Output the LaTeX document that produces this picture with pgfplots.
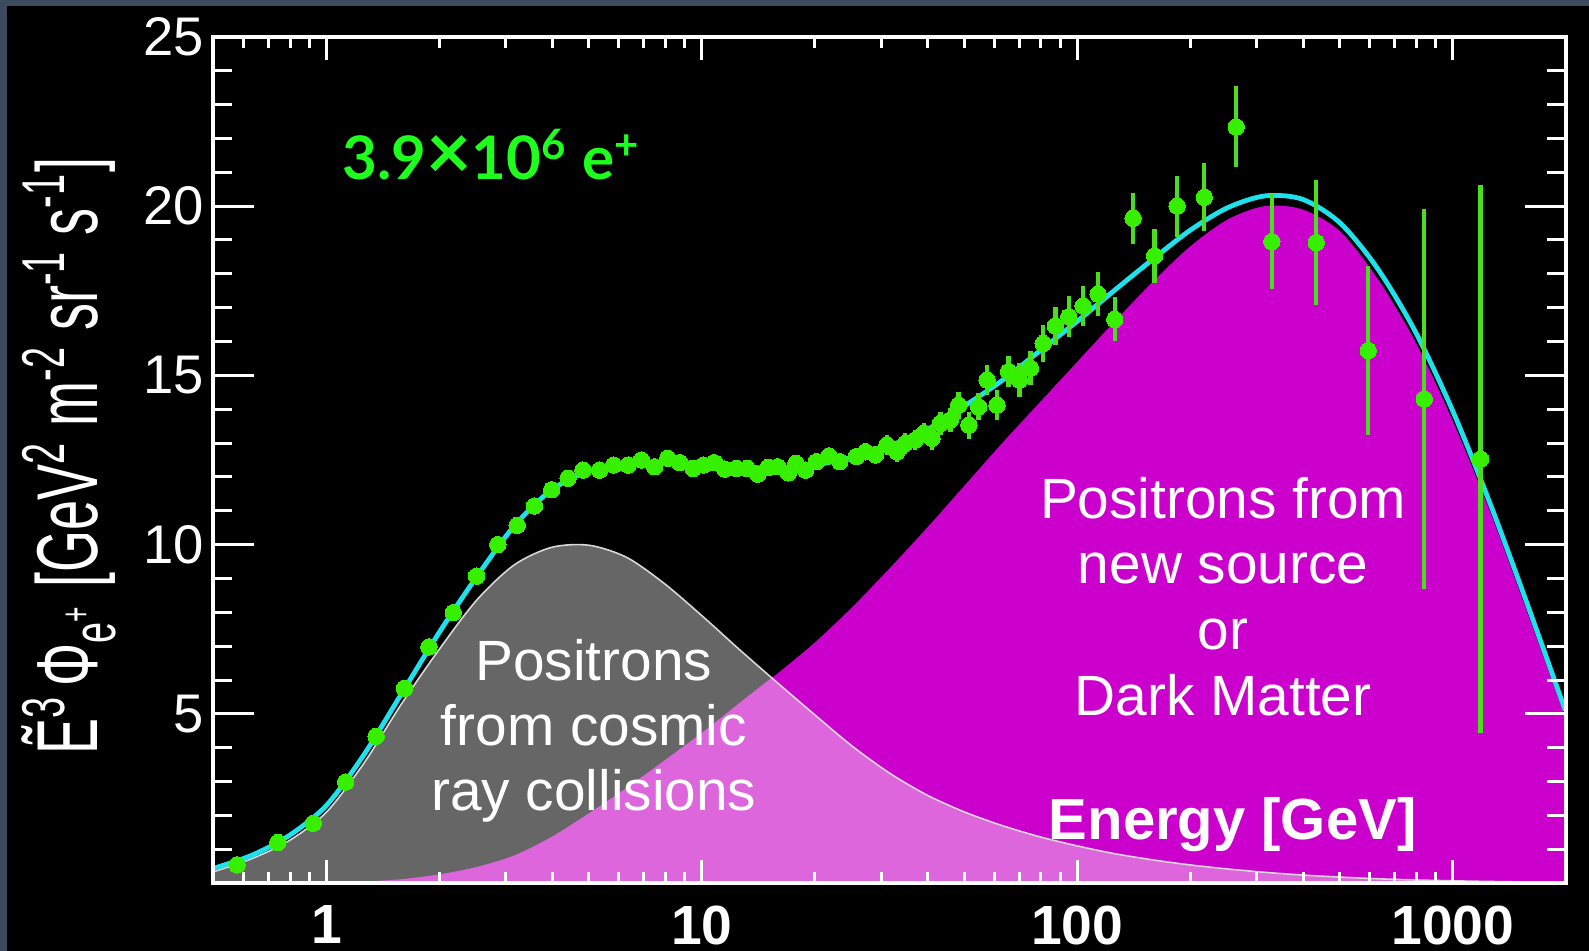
\documentclass[border=0pt]{standalone}
\usepackage{pgfplots}
\pgfplotsset{compat=1.18}
\usepackage{pgfplotstable}
\usepackage{graphicx}
\usepackage{fontspec}
\setmainfont{Liberation Sans}
\newfontfamily\latofont{Lato}

\definecolor{bgblue}{RGB}{60,76,94}
\definecolor{cyanline}{RGB}{30,225,235}
\definecolor{magF}{RGB}{204,0,204}
\definecolor{pinkF}{RGB}{221,102,221}
\definecolor{grayF}{RGB}{102,102,102}
\definecolor{grayline}{RGB}{215,215,215}
\definecolor{ptgreen}{RGB}{55,240,0}
\definecolor{bargreen}{RGB}{75,222,30}
\definecolor{txtgreen}{RGB}{30,255,30}

% total model (cyan)
\pgfplotstableread{
x y
0.501 0.44
0.631 0.82
0.794 1.40
1.000 2.30
1.259 3.80
1.585 5.60
1.995 7.40
2.512 9.05
3.162 10.55
3.981 11.62
5.012 12.18
6.310 12.35
7.943 12.43
10.00 12.38
12.59 12.30
15.85 12.26
19.95 12.35
25.12 12.58
31.62 12.92
39.81 13.40
50.12 14.10
63.10 14.85
79.43 15.72
100.0 16.60
125.9 17.52
158.5 18.42
199.5 19.28
251.2 19.95
316.2 20.30
398.1 20.20
501.2 19.50
631.0 18.15
794.3 16.30
1000 13.95
1259 11.20
1585 8.20
1995 5.10
}\cyantab

% cosmic-ray collision component (grey)
\pgfplotstableread{
x y
0.501 0.34
0.631 0.72
0.794 1.25
1.000 2.10
1.259 3.55
1.585 5.30
1.995 6.90
2.512 8.36
3.162 9.40
3.981 9.92
5.012 9.98
6.310 9.62
7.943 8.85
10.00 7.90
12.59 6.90
15.85 5.93
19.95 4.98
25.12 4.05
31.62 3.25
39.81 2.60
50.12 2.10
63.10 1.70
79.43 1.37
100.0 1.10
125.9 0.87
158.5 0.69
199.5 0.54
251.2 0.42
316.2 0.32
398.1 0.24
501.2 0.18
631.0 0.13
794.3 0.095
1000 0.07
1259 0.05
1585 0.035
1995 0.025
}\graytab

% new source component (magenta)
\pgfplotstableread{
x y
1.000 0.0
1.259 0.03
1.585 0.10
1.995 0.24
2.512 0.46
3.162 0.80
3.981 1.35
5.012 2.05
6.310 2.80
7.943 3.60
10.00 4.42
12.59 5.30
15.85 6.18
19.95 7.10
25.12 8.15
31.62 9.30
39.81 10.50
50.12 11.75
63.10 13.00
79.43 14.20
100.0 15.40
125.9 16.60
158.5 17.75
199.5 18.80
251.2 19.60
316.2 20.00
398.1 19.90
501.2 19.25
631.0 17.85
794.3 16.00
1000 13.65
1259 10.95
1585 7.95
1995 4.90
}\magtab

% overlap of both components (light pink): below the magenta curve up to the crossing
\pgfplotstableread{
x y
1.000 0.0
1.259 0.03
1.585 0.10
1.995 0.24
2.512 0.46
3.162 0.80
3.981 1.35
5.012 2.05
6.310 2.80
7.943 3.60
10.00 4.42
12.59 5.30
15.40 6.06
}\pinkA

% overlap: below the grey curve after the crossing
\pgfplotstableread{
x y
15.40 6.06
19.95 4.98
25.12 4.05
31.62 3.25
39.81 2.60
50.12 2.10
63.10 1.70
79.43 1.37
100.0 1.10
125.9 0.87
158.5 0.69
199.5 0.54
251.2 0.42
316.2 0.32
398.1 0.24
501.2 0.18
631.0 0.13
794.3 0.095
1000 0.07
1259 0.05
1585 0.035
1995 0.025
}\pinkB

% measured positron flux
\pgfplotstableread{
x y e
0.578 0.54 0.02
0.742 1.20 0.03
0.922 1.77 0.04
1.125 2.99 0.05
1.356 4.34 0.06
1.614 5.75 0.07
1.874 6.98 0.08
2.176 7.99 0.09
2.51 9.07 0.1
2.86 10.00 0.1
3.22 10.57 0.1
3.58 11.14 0.1
3.98 11.62 0.1
4.40 11.96 0.1
4.82 12.20 0.1
5.34 12.20 0.1
5.82 12.35 0.1
6.36 12.35 0.1
6.90 12.50 0.1
7.48 12.30 0.1
8.11 12.55 0.1
8.72 12.42 0.1
9.47 12.25 0.1
10.1 12.35 0.1
10.8 12.42 0.1
11.5 12.23 0.1
12.35 12.25 0.1
13.2 12.25 0.12
14.1 12.08 0.12
15.0 12.28 0.12
15.9 12.30 0.12
17.0 12.12 0.12
17.8 12.40 0.15
18.9 12.20 0.15
20.2 12.45 0.15
21.8 12.62 0.15
23.3 12.45 0.2
25.8 12.60 0.2
27.3 12.74 0.25
29.0 12.65 0.25
31.1 12.94 0.3
33.1 12.74 0.3
34.8 12.99 0.3
37.0 13.09 0.3
39.0 13.29 0.3
41.0 13.14 0.35
43.2 13.58 0.35
45.9 13.68 0.35
48.3 14.12 0.4
51.4 13.53 0.4
54.6 14.07 0.4
57.5 14.86 0.45
61.1 14.12 0.45
65.6 15.11 0.45
70.1 14.86 0.5
75.0 15.21 0.5
81.1 15.94 0.55
87.4 16.46 0.55
94.9 16.73 0.6
103.6 17.05 0.6
113.6 17.40 0.65
125.8 16.65 0.65
140.8 19.64 0.75
160.6 18.53 0.8
184.5 20.00 0.9
217.8 20.26 1.0
265 22.34 1.2
329.7 18.95 1.4
433 18.92 1.85
595.6 15.73 2.5
839.6 14.30 5.6
1186 12.53 8.1
}\datatab

\begin{document}
\begin{tikzpicture}
\fill[bgblue] (-53.375pt,-16.95pt) rectangle (343.875pt,220.8pt);
\fill[black] (-51.625pt,-16.95pt) rectangle (343.875pt,219.3pt);
\begin{axis}[
  scale only axis, width=338.05pt, height=211.6pt,
  xmode=log, xmin=0.5, xmax=2000, ymin=0, ymax=25,
  axis on top,
  axis line style={white, line width=1pt},
  tick align=inside,
  tick style={white, line width=0.75pt},
  major tick length=10.25pt, minor tick length=4.75pt,
  every major x tick/.append style={/pgfplots/major tick length=5.75pt},
  every minor x tick/.append style={/pgfplots/minor tick length=2.75pt},
  xtick={1,10,100,1000}, xticklabels={1,10,100,1000},
  minor xtick={0.6,0.7,0.8,0.9,2,3,4,5,6,7,8,9,20,30,40,50,60,70,80,90,200,300,400,500,600,700,800,900,2000},
  ytick={5,10,15,20,25}, yticklabels={5,10,15,20,25},
  minor ytick={1,2,3,4,6,7,8,9,11,12,13,14,16,17,18,19,21,22,23,24},
  xticklabel style={white, font=\bfseries\fontsize{13.8}{16}\selectfont, anchor=north, inner sep=0pt, yshift=-5.4pt},
  yticklabel style={white, font=\fontsize{13.6}{16}\selectfont, anchor=east, inner sep=0pt, xshift=-2.2pt},
]
\addplot[draw=none, fill=magF, smooth] table[x=x,y=y] {\magtab} \closedcycle;
\addplot[draw=none, fill=grayF, smooth] table[x=x,y=y] {\graytab} \closedcycle;
\addplot[draw=pinkF, line width=0.3pt, fill=pinkF, smooth] table[x=x,y=y] {\pinkA} \closedcycle;
\addplot[draw=none, fill=pinkF, smooth] table[x=x,y=y] {\pinkB} \closedcycle;
\addplot[smooth, draw=grayline, line width=0.4pt] table[x=x,y=y] {\graytab};
\addplot[smooth, draw=cyanline, line width=1.2pt] table[x=x,y=y] {\cyantab};
\addplot[color=ptgreen, only marks, mark=*, mark size=2.05pt, mark options={fill=ptgreen, draw=ptgreen, line width=0pt},
  error bars/.cd, y dir=both, y explicit, error mark=none,
  error bar style={bargreen, line width=1.1pt}]
  table[x=x, y=y, y error=e] {\datatab};
\end{axis}
% y axis title
\node[rotate=90, anchor=base, white, inner sep=0pt, font=\fontsize{13.5}{16}\selectfont] at (-28.9pt,106.8pt)
  {\scalebox{1}[1.6]{Ẽ\textsuperscript{3}\,Φ\textsubscript{e\textsuperscript{+}} [GeV\textsuperscript{2} m\textsuperscript{-2} sr\textsuperscript{-1} s\textsuperscript{-1}]}};
% event count
\node[anchor=base west, inner sep=0pt, txtgreen, font=\latofont\bfseries\fontsize{15}{18}\selectfont] at (32.05pt,175.8pt)
  {3.9\scalebox{1.3}{×}10\textsuperscript{6} e\textsuperscript{+}};
% annotations
\begin{scope}[every node/.style={anchor=base, inner sep=0pt, white, font=\fontsize{14.2}{16}\selectfont}]
\node at (95.1pt,50.55pt) {Positrons};
\node at (95.1pt,34.3pt) {from cosmic};
\node at (95.1pt,18.05pt) {ray collisions};
\node at (252.4pt,91.05pt) {Positrons from};
\node at (252.4pt,74.8pt) {new source};
\node at (252.4pt,58.3pt) {or};
\node at (252.4pt,41.8pt) {Dark Matter};
\end{scope}
\node[anchor=base, inner sep=0pt, white, font=\bfseries\fontsize{14.5}{16}\selectfont] at (254.8pt,10.8pt) {Energy [GeV]};
\end{tikzpicture}
\end{document}
